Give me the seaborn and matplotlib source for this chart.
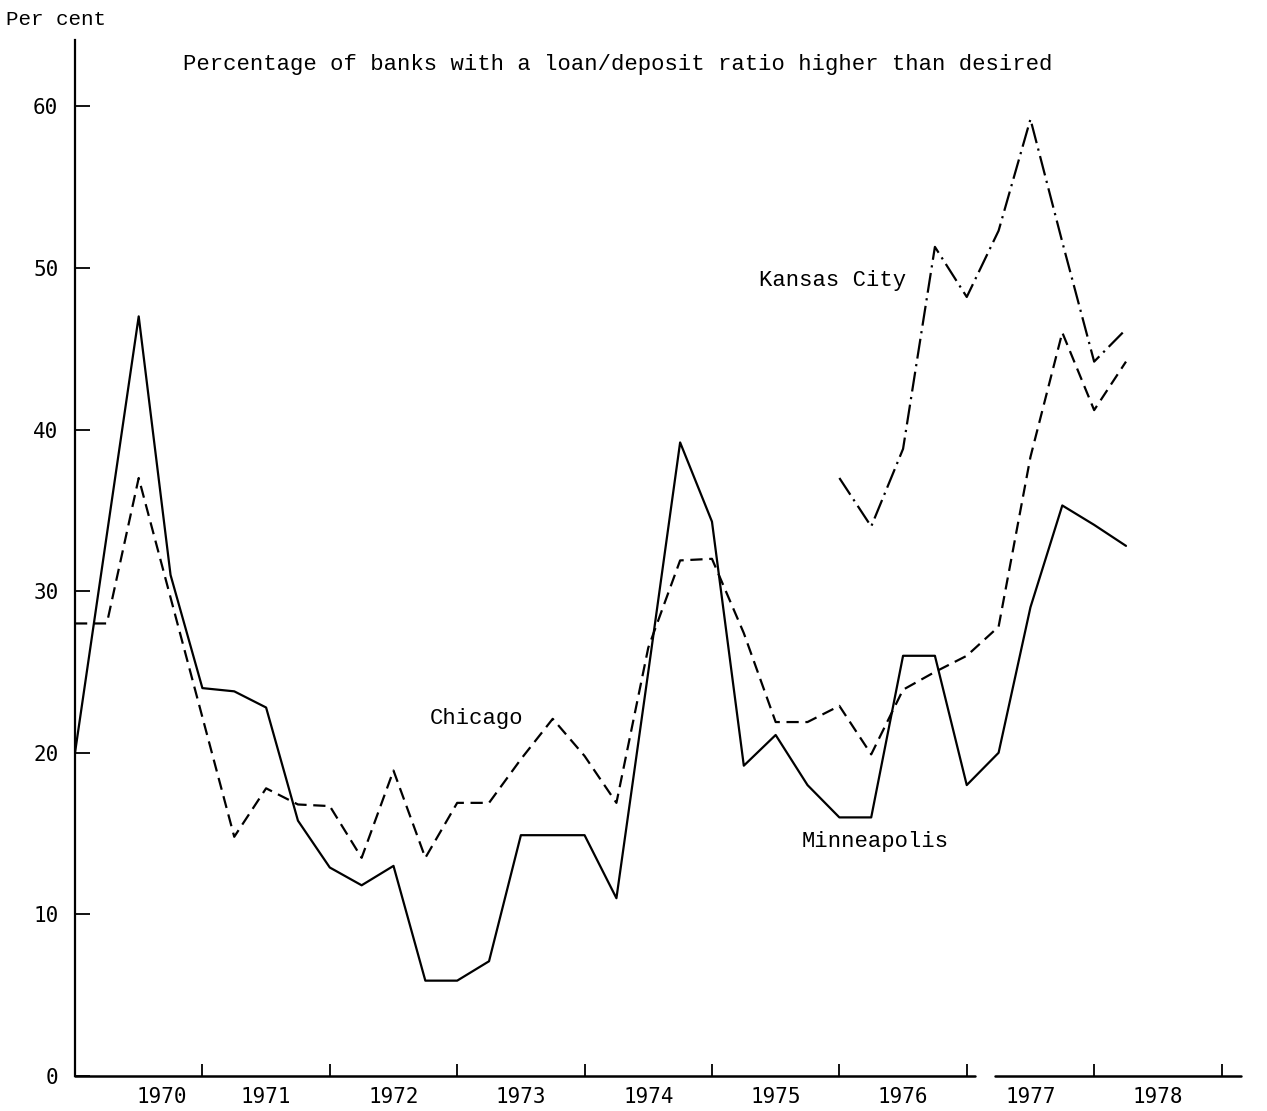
import numpy as np
import pandas as pd
import seaborn as sns
import matplotlib
matplotlib.use('Agg')
import matplotlib.pyplot as plt

# quarterly observations, 1970 Q1 .. 1978 Q2
quarter = 1970 + np.arange(34) / 4

minneapolis = [20.0, 33.5, 47.0, 31.0, 24.0, 23.8, 22.8, 15.8, 12.9, 11.8,
               13.0, 5.9, 5.9, 7.1, 14.9, 14.9, 14.9, 11.0, 25.0, 39.2,
               34.3, 19.2, 21.1, 18.0, 16.0, 16.0, 26.0, 26.0, 18.0, 20.0,
               29.0, 35.3, 34.1, 32.8]
chicago = [28.0, 28.0, 37.0, 29.6, 22.2, 14.8, 17.8, 16.8, 16.7, 13.5,
           18.9, 13.5, 16.9, 16.9, 19.6, 22.1, 19.8, 16.9, 26.5, 31.9,
           32.0, 27.4, 21.9, 21.9, 22.9, 19.9, 23.9, 25.0, 26.0, 27.8,
           38.3, 46.0, 41.2, 44.2]
kansas_start = 24
kansas_city = [37.0, 34.0, 38.8, 51.3, 48.2, 52.3, 59.2, 51.6, 44.2, 46.2]

year_labels = ['1970', '1971', '1972', '1973', '1974', '1975', '1976', '1977', '1978']
label_pos = [1970.68, 1971.5, 1972.5, 1973.5, 1974.5, 1975.5, 1976.5, 1977.5, 1978.5]
year_ticks = np.arange(1971, 1980)

sns.set_style('ticks')
plt.rcParams['font.family'] = ['Liberation Mono', 'DejaVu Sans Mono']
plt.rcParams['text.color'] = 'black'
plt.rcParams['xtick.color'] = 'black'
plt.rcParams['ytick.color'] = 'black'
plt.rcParams['axes.edgecolor'] = 'black'

fig = plt.figure(figsize=(12.67, 11.11), dpi=100)
ax = fig.add_axes([0.0592, 0.0315, 0.92, 0.9325])

lw = 1.6
sns.lineplot(x=quarter, y=minneapolis, ax=ax, color='black', lw=lw)
sns.lineplot(x=quarter, y=chicago, ax=ax, color='black', lw=lw,
             linestyle=(0, (5.5, 3)))
sns.lineplot(x=quarter[kansas_start:], y=kansas_city, ax=ax, color='black', lw=lw,
             linestyle=(0, (9, 2.5, 1, 2.5)))

ax.set_xlim(1970, 1979.15)
ax.set_ylim(0, 64.1)

ax.set_yticks(range(0, 70, 10))
ax.tick_params(axis='y', direction='in', length=11, width=1.3, pad=12, labelsize=15)
ax.set_xticks(year_ticks, labels=[''] * len(year_ticks))
ax.set_xticks(label_pos, labels=year_labels, minor=True)
ax.tick_params(axis='x', which='major', direction='in', length=9, width=1.3)
ax.tick_params(axis='x', which='minor', length=0, pad=8, labelsize=15)
for lab in ax.get_xticklabels(minor=True) + ax.get_yticklabels():
    lab.set_family('DejaVu Sans Mono')

sns.despine(ax=ax, top=True, right=True, bottom=True)
ax.spines['left'].set_linewidth(1.6)
# bottom axis with the small break after 1976
ax.axhline(0, xmin=0, xmax=0.772, color='black', lw=1.8, clip_on=False)
ax.axhline(0, xmin=0.789, xmax=1, color='black', lw=1.8, clip_on=False)

ax.text(1970.85, 62.6, 'Percentage of banks with a loan/deposit ratio higher than desired',
        fontsize=16, va='center', ha='left')
ax.text(1975.95, 49.2, 'Kansas City', fontsize=16, va='center', ha='center')
ax.text(1973.15, 22.1, 'Chicago', fontsize=16, va='center', ha='center')
ax.text(1975.7, 14.5, 'Minneapolis', fontsize=16, va='center', ha='left')
fig.text(0.005, 0.982, 'Per cent', fontsize=15, va='center', ha='left')

ax.set_xlabel('')
ax.set_ylabel('')
fig.savefig('out.png', dpi=100, facecolor='white')
